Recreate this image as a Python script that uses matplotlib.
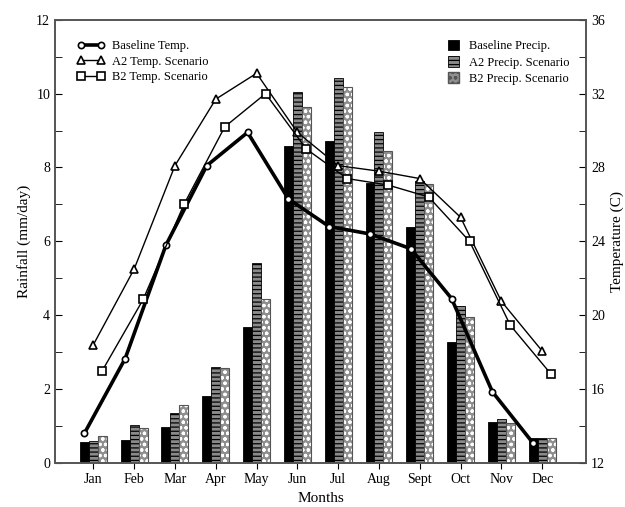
import matplotlib
matplotlib.use("Agg")
import matplotlib.pyplot as plt
import numpy as np
from matplotlib.patches import Patch

plt.rcParams['font.family'] = ['Liberation Serif', 'DejaVu Serif']
plt.rcParams['hatch.linewidth'] = 0.9

months = ["Jan", "Feb", "Mar", "Apr", "May", "Jun", "Jul", "Aug", "Sept", "Oct", "Nov", "Dec"]

base_precip = [0.57, 0.62, 0.98, 1.8, 3.67, 8.57, 8.73, 7.58, 6.39, 3.27, 1.11, 0.67]
a2_precip = [0.6, 1.02, 1.35, 2.6, 5.4, 10.05, 10.41, 8.95, 7.63, 4.26, 1.18, 0.67]
b2_precip = [0.73, 0.94, 1.56, 2.56, 4.45, 9.65, 10.19, 8.45, 7.55, 3.94, 1.09, 0.67]

base_temp = [13.6, 17.65, 23.8, 28.1, 29.9, 26.3, 24.8, 24.4, 23.6, 20.9, 15.85, 13.06]
a2_temp = [18.4, 22.5, 28.1, 31.7, 33.1, 29.9, 28.1, 27.8, 27.4, 25.3, 20.75, 18.06]
b2_temp = [17.0, 20.85, 26.0, 30.2, 32.0, 29.0, 27.4, 27.05, 26.4, 24.0, 19.45, 16.8]

x = np.arange(len(months))
w = 0.22

fig = plt.figure(figsize=(6.25, 5.07), dpi=100)
ax = fig.add_axes([0.088, 0.087, 0.85, 0.874])

b1 = ax.bar(x - w, base_precip, w, color='black', edgecolor='black', linewidth=0.6)
b2 = ax.bar(x, a2_precip, w, color='#8a8a8a', edgecolor='black', hatch='----', linewidth=0.6)
b3 = ax.bar(x + w, b2_precip, w, color='#8f8f8f', edgecolor='white', hatch='ooo', linewidth=0)
ax.bar(x + w, b2_precip, w, fill=False, edgecolor='#555555', linewidth=0.8)

ax.set_xlim(-0.94, 12.08)
ax.set_ylim(0, 12)
ax.set_yticks(np.arange(0, 13, 2))
ax.set_yticks(np.arange(1, 12, 2), minor=True)
ax.set_xticks(x)
ax.set_xticklabels(months)
ax.tick_params(axis='y', which='both', direction='in', length=5, labelsize=10)
ax.tick_params(axis='x', direction='out', length=4, labelsize=10)
ax.set_ylabel("Rainfall (mm/day)", fontsize=11)
ax.set_xlabel("Months", fontsize=11, labelpad=4)

ax2 = ax.twinx()
ax2.set_ylim(12, 36)
ax2.set_yticks(np.arange(12, 37, 4))
ax2.set_yticks(np.arange(14, 36, 4), minor=True)
ax2.tick_params(axis='y', which='both', direction='in', length=5, labelsize=10)
ax2.set_ylabel("Temperature (C)", fontsize=11)

l1, = ax2.plot(x - w, base_temp, '-o', color='black', lw=2.6, ms=4.5, mfc='white', mec='black', mew=1.2)
l2, = ax2.plot(x, a2_temp, '-^', color='black', lw=1.0, ms=6, mfc='white', mec='black', mew=1.2)
l3, = ax2.plot(x + w, b2_temp, '-s', color='black', lw=1.0, ms=6, mfc='white', mec='black', mew=1.2)

for a in (ax, ax2):
    for s in a.spines.values():
        s.set_color('#555555')
        s.set_linewidth(1.2)

leg1 = ax2.legend([l1, l2, l3], ["Baseline Temp.", "A2 Temp. Scenario", "B2 Temp. Scenario"],
                  loc='upper left', bbox_to_anchor=(0.02, 0.98), frameon=False, fontsize=9,
                  numpoints=2, handlelength=2.2, labelspacing=0.3, handletextpad=0.6)
ax2.add_artist(leg1)

h3 = Patch(facecolor='#8f8f8f', edgecolor='#555555', hatch='ooo')
ax2.legend([b1, b2, h3], ["Baseline Precip.", "A2 Precip. Scenario", "B2 Precip. Scenario"],
           loc='upper right', bbox_to_anchor=(0.99, 0.98), frameon=False, fontsize=9,
           handlelength=0.9, handleheight=0.9, labelspacing=0.3, handletextpad=0.8)

fig.savefig("out.png", dpi=100)
